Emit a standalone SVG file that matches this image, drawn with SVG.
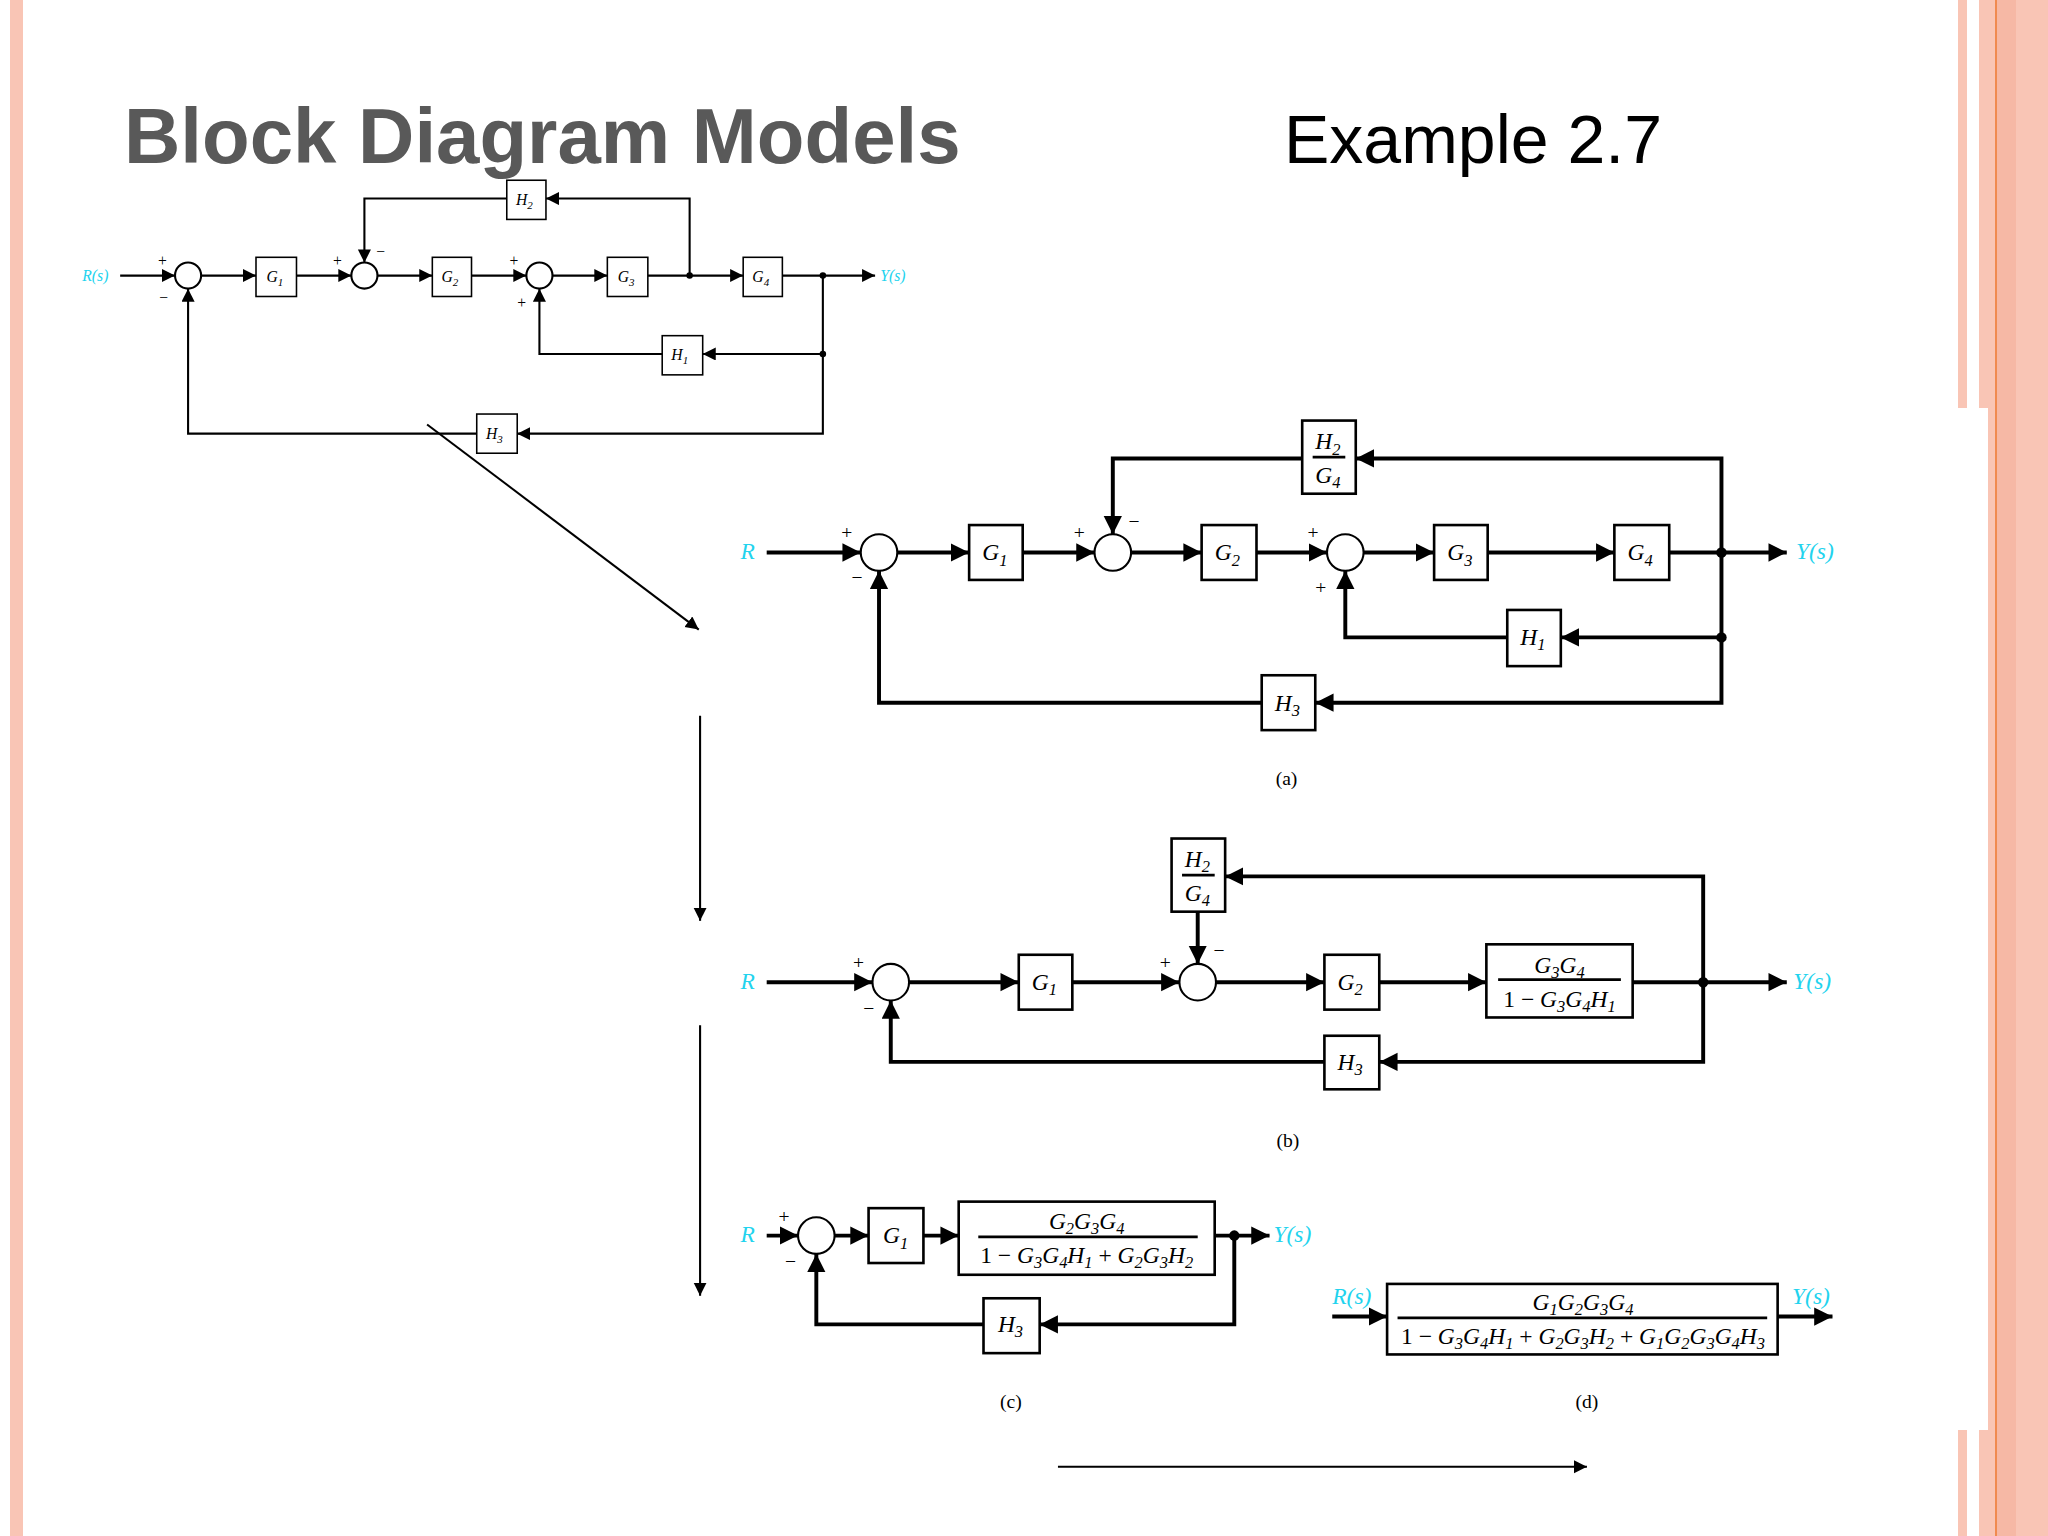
<svg xmlns="http://www.w3.org/2000/svg" width="2048" height="1536" viewBox="0 0 2048 1536">
<style>
.t{font-family:"Liberation Serif",serif;font-style:italic;fill:#000}
.c{font-family:"Liberation Serif",serif;font-style:italic;fill:#22D3EE}
.pm{font-family:"Liberation Serif",serif;fill:#000}
.thin{stroke:#000;stroke-width:1.6;fill:none}
.thick{stroke:#000;stroke-width:3;fill:none}
.bx1{stroke:#000;stroke-width:1.2;fill:#fff}
.bx2{stroke:#000;stroke-width:2;fill:#fff}
.s{font-size:70%}
</style>
<defs>
<marker id="a1" markerUnits="userSpaceOnUse" markerWidth="12" markerHeight="12" refX="10" refY="5" orient="auto"><path d="M0,0 L10,5 L0,10 Z" fill="#000"/></marker>
<marker id="a2" markerUnits="userSpaceOnUse" markerWidth="16" markerHeight="16" refX="14" refY="7" orient="auto"><path d="M0,0 L14,7 L0,14 Z" fill="#000"/></marker>
</defs>
<rect width="2048" height="1536" fill="#fff"/>
<rect x="10" y="0" width="13" height="1536" fill="#F9C5B5"/>
<rect x="1958" y="0" width="9" height="1536" fill="#F9C5B5"/>
<rect x="1979" y="0" width="69" height="1536" fill="#F9C5B5"/>
<rect x="1996" y="0" width="20" height="1536" fill="#F6B8A5"/>
<rect x="1995" y="0" width="2" height="1536" fill="#F08A50"/>
<rect x="1950" y="408" width="38" height="1022" fill="#fff"/>
<text x="124" y="163" font-family="Liberation Sans,Arial,sans-serif" font-weight="bold" font-size="78" fill="#595959">Block Diagram Models</text>
<text x="1284" y="163" font-family="Liberation Sans,Arial,sans-serif" font-size="68" fill="#000">Example 2.7</text>
<g transform="scale(1.30612)">
<g id="connectors">
<!-- top diagram -->
<g class="thin">
<path d="M92,211 H134" marker-end="url(#a1)"/>
<path d="M154,211 H196" marker-end="url(#a1)"/>
<path d="M227,211 H269" marker-end="url(#a1)"/>
<path d="M289,211 H331" marker-end="url(#a1)"/>
<path d="M361,211 H403" marker-end="url(#a1)"/>
<path d="M423,211 H465" marker-end="url(#a1)"/>
<path d="M496,211 H569" marker-end="url(#a1)"/>
<path d="M599,211 H670" marker-end="url(#a1)"/>
<path d="M528,211 V152 H418" marker-end="url(#a1)"/>
<path d="M388,152 H279 V201" marker-end="url(#a1)"/>
<path d="M630,211 V271 H538" marker-end="url(#a1)"/>
<path d="M507,271 H413 V221" marker-end="url(#a1)"/>
<path d="M630,271 V332 H396" marker-end="url(#a1)"/>
<path d="M365,332 H144 V221" marker-end="url(#a1)"/>
<path d="M327,325 L535,482" marker-end="url(#a1)"/>
<path d="M536,548 V705" marker-end="url(#a1)"/>
<path d="M536,785 V992" marker-end="url(#a1)"/>
<path d="M810,1123 H1215" marker-end="url(#a1)"/>
</g>
<!-- (a) -->
<g class="thick">
<path d="M587,423 H659" marker-end="url(#a2)"/>
<path d="M687,423 H742" marker-end="url(#a2)"/>
<path d="M783,423 H838" marker-end="url(#a2)"/>
<path d="M866,423 H920" marker-end="url(#a2)"/>
<path d="M962,423 H1016" marker-end="url(#a2)"/>
<path d="M1044,423 H1098" marker-end="url(#a2)"/>
<path d="M1139,423 H1236" marker-end="url(#a2)"/>
<path d="M1278,423 H1368" marker-end="url(#a2)"/>
<path d="M1318,423 V351 H1038" marker-end="url(#a2)"/>
<path d="M997,351 H852 V409" marker-end="url(#a2)"/>
<path d="M1318,423 V538 H1007" marker-end="url(#a2)"/>
<path d="M1318,488 H1195" marker-end="url(#a2)"/>
<path d="M1154,488 H1030 V437" marker-end="url(#a2)"/>
<path d="M966,538 H673 V437" marker-end="url(#a2)"/>
</g>
<!-- (b) -->
<g class="thick">
<path d="M587,752 H668" marker-end="url(#a2)"/>
<path d="M696,752 H780" marker-end="url(#a2)"/>
<path d="M821,752 H903" marker-end="url(#a2)"/>
<path d="M931,752 H1014" marker-end="url(#a2)"/>
<path d="M1056,752 H1138" marker-end="url(#a2)"/>
<path d="M1250,752 H1368" marker-end="url(#a2)"/>
<path d="M1304,752 V671 H938" marker-end="url(#a2)"/>
<path d="M917,698 V738" marker-end="url(#a2)"/>
<path d="M1304,752 V813 H1056" marker-end="url(#a2)"/>
<path d="M1014,813 H682 V766" marker-end="url(#a2)"/>
</g>
<!-- (c),(d) -->
<g class="thick">
<path d="M587,946 H611" marker-end="url(#a2)"/>
<path d="M639,946 H665" marker-end="url(#a2)"/>
<path d="M707,946 H734" marker-end="url(#a2)"/>
<path d="M930,946 H972" marker-end="url(#a2)"/>
<path d="M945,946 V1014 H796" marker-end="url(#a2)"/>
<path d="M753,1014 H625 V960" marker-end="url(#a2)"/>
<path d="M1020,1008 H1062" marker-end="url(#a2)"/>
<path d="M1361,1008 H1403" marker-end="url(#a2)"/>
</g>
<g fill="#000">
<circle cx="528" cy="211" r="2.5"/><circle cx="630" cy="211" r="2.5"/><circle cx="630" cy="271" r="2.5"/>
<circle cx="1318" cy="423" r="4"/><circle cx="1318" cy="488" r="4"/>
<circle cx="1304" cy="752" r="4"/><circle cx="945" cy="946" r="4"/>
</g>
</g>
<!-- top diagram nodes -->
<g id="top" font-size="12">
<text class="c" x="63" y="215">R(s)</text>
<text class="c" x="674" y="215">Y(s)</text>
<g id="t-s1"><circle class="thin" cx="144" cy="211" r="10" fill="#fff"/><text class="pm" x="121" y="204">+</text><text class="pm" x="122" y="232">−</text></g>
<g id="t-s2"><circle class="thin" cx="279" cy="211" r="10" fill="#fff"/><text class="pm" x="255" y="204">+</text><text class="pm" x="288" y="197">−</text></g>
<g id="t-s3"><circle class="thin" cx="413" cy="211" r="10" fill="#fff"/><text class="pm" x="390" y="204">+</text><text class="pm" x="396" y="236">+</text></g>
<g id="t-g1"><rect class="bx1" x="196" y="197" width="31" height="30"/><text class="t" x="204" y="216">G<tspan class="s" dy="3">1</tspan></text></g>
<g id="t-g2"><rect class="bx1" x="331" y="197" width="30" height="30"/><text class="t" x="338" y="216">G<tspan class="s" dy="3">2</tspan></text></g>
<g id="t-g3"><rect class="bx1" x="465" y="197" width="31" height="30"/><text class="t" x="473" y="216">G<tspan class="s" dy="3">3</tspan></text></g>
<g id="t-g4"><rect class="bx1" x="569" y="197" width="30" height="30"/><text class="t" x="576" y="216">G<tspan class="s" dy="3">4</tspan></text></g>
<g id="t-h2"><rect class="bx1" x="388" y="138" width="30" height="30"/><text class="t" x="395" y="157">H<tspan class="s" dy="3">2</tspan></text></g>
<g id="t-h1"><rect class="bx1" x="507" y="257" width="31" height="30"/><text class="t" x="514" y="276">H<tspan class="s" dy="3">1</tspan></text></g>
<g id="t-h3"><rect class="bx1" x="365" y="317" width="31" height="30"/><text class="t" x="372" y="336">H<tspan class="s" dy="3">3</tspan></text></g>
</g>
<!-- (a) -->
<g id="diag-a" font-size="18">
<text class="c" x="567" y="428">R</text>
<text class="c" x="1375" y="428">Y(s)</text>
<g id="a-s1"><circle class="thin" cx="673" cy="423" r="14" fill="#fff"/><text class="pm" x="644" y="413" font-size="15">+</text><text class="pm" x="652" y="447" font-size="15">−</text></g>
<g id="a-s2"><circle class="thin" cx="852" cy="423" r="14" fill="#fff"/><text class="pm" x="822" y="413" font-size="15">+</text><text class="pm" x="864" y="404" font-size="15">−</text></g>
<g id="a-s3"><circle class="thin" cx="1030" cy="423" r="14" fill="#fff"/><text class="pm" x="1001" y="413" font-size="15">+</text><text class="pm" x="1007" y="455" font-size="15">+</text></g>
<g id="a-g1"><rect class="bx2" x="742" y="402" width="41" height="42"/><text class="t" x="752" y="429">G<tspan class="s" dy="4">1</tspan></text></g>
<g id="a-g2"><rect class="bx2" x="920" y="402" width="42" height="42"/><text class="t" x="930" y="429">G<tspan class="s" dy="4">2</tspan></text></g>
<g id="a-g3"><rect class="bx2" x="1098" y="402" width="41" height="42"/><text class="t" x="1108" y="429">G<tspan class="s" dy="4">3</tspan></text></g>
<g id="a-g4"><rect class="bx2" x="1236" y="402" width="42" height="42"/><text class="t" x="1246" y="429">G<tspan class="s" dy="4">4</tspan></text></g>
<g id="a-h2g4"><rect class="bx2" x="997" y="322" width="41" height="56"/><text class="t" x="1007" y="344">H<tspan class="s" dy="4">2</tspan></text><line x1="1005" y1="350" x2="1030" y2="350" stroke="#000" stroke-width="2"/><text class="t" x="1007" y="370">G<tspan class="s" dy="4">4</tspan></text></g>
<g id="a-h1"><rect class="bx2" x="1154" y="467" width="41" height="43"/><text class="t" x="1164" y="494">H<tspan class="s" dy="4">1</tspan></text></g>
<g id="a-h3"><rect class="bx2" x="966" y="517" width="41" height="42"/><text class="t" x="976" y="544">H<tspan class="s" dy="4">3</tspan></text></g>
<text class="pm" x="985" y="601" font-size="15" text-anchor="middle">(a)</text>
</g>
<!-- (b) -->
<g id="diag-b" font-size="18">
<text class="c" x="567" y="757">R</text>
<text class="c" x="1373" y="757">Y(s)</text>
<g id="b-s1"><circle class="thin" cx="682" cy="752" r="14" fill="#fff"/><text class="pm" x="653" y="742" font-size="15">+</text><text class="pm" x="661" y="777" font-size="15">−</text></g>
<g id="b-s2"><circle class="thin" cx="917" cy="752" r="14" fill="#fff"/><text class="pm" x="888" y="742" font-size="15">+</text><text class="pm" x="929" y="733" font-size="15">−</text></g>
<g id="b-g1"><rect class="bx2" x="780" y="731" width="41" height="42"/><text class="t" x="790" y="758">G<tspan class="s" dy="4">1</tspan></text></g>
<g id="b-g2"><rect class="bx2" x="1014" y="731" width="42" height="42"/><text class="t" x="1024" y="758">G<tspan class="s" dy="4">2</tspan></text></g>
<g id="b-big"><rect class="bx2" x="1138" y="723" width="112" height="56"/><text class="t" x="1194" y="745" text-anchor="middle">G<tspan class="s" dy="4">3</tspan><tspan dy="-4">G</tspan><tspan class="s" dy="4">4</tspan></text><line x1="1147" y1="750" x2="1241" y2="750" stroke="#000" stroke-width="2"/><text class="t" x="1194" y="771" text-anchor="middle"><tspan font-style="normal">1 − </tspan>G<tspan class="s" dy="4">3</tspan><tspan dy="-4">G</tspan><tspan class="s" dy="4">4</tspan><tspan dy="-4">H</tspan><tspan class="s" dy="4">1</tspan></text></g>
<g id="b-h2g4"><rect class="bx2" x="897" y="642" width="41" height="56"/><text class="t" x="907" y="664">H<tspan class="s" dy="4">2</tspan></text><line x1="905" y1="670" x2="930" y2="670" stroke="#000" stroke-width="2"/><text class="t" x="907" y="690">G<tspan class="s" dy="4">4</tspan></text></g>
<g id="b-h3"><rect class="bx2" x="1014" y="793" width="42" height="41"/><text class="t" x="1024" y="819">H<tspan class="s" dy="4">3</tspan></text></g>
<text class="pm" x="986" y="878" font-size="15" text-anchor="middle">(b)</text>
</g>
<!-- (c) -->
<g id="diag-c" font-size="18">
<text class="c" x="567" y="951">R</text>
<text class="c" x="975" y="951">Y(s)</text>
<g id="c-s1"><circle class="thin" cx="625" cy="946" r="14" fill="#fff"/><text class="pm" x="596" y="936" font-size="15">+</text><text class="pm" x="601" y="971" font-size="15">−</text></g>
<g id="c-g1"><rect class="bx2" x="665" y="925" width="42" height="42"/><text class="t" x="676" y="952">G<tspan class="s" dy="4">1</tspan></text></g>
<g id="c-big"><rect class="bx2" x="734" y="920" width="196" height="56"/><text class="t" x="832" y="941" text-anchor="middle">G<tspan class="s" dy="4">2</tspan><tspan dy="-4">G</tspan><tspan class="s" dy="4">3</tspan><tspan dy="-4">G</tspan><tspan class="s" dy="4">4</tspan></text><line x1="749" y1="947" x2="917" y2="947" stroke="#000" stroke-width="2"/><text class="t" x="832" y="967" text-anchor="middle"><tspan font-style="normal">1 − </tspan>G<tspan class="s" dy="4">3</tspan><tspan dy="-4">G</tspan><tspan class="s" dy="4">4</tspan><tspan dy="-4">H</tspan><tspan class="s" dy="4">1</tspan><tspan dy="-4" font-style="normal"> + </tspan>G<tspan class="s" dy="4">2</tspan><tspan dy="-4">G</tspan><tspan class="s" dy="4">3</tspan><tspan dy="-4">H</tspan><tspan class="s" dy="4">2</tspan></text></g>
<g id="c-h3"><rect class="bx2" x="753" y="994" width="43" height="42"/><text class="t" x="764" y="1020">H<tspan class="s" dy="4">3</tspan></text></g>
<text class="pm" x="774" y="1078" font-size="15" text-anchor="middle">(c)</text>
</g>
<!-- (d) -->
<g id="diag-d" font-size="18">
<text class="c" x="1020" y="998">R(s)</text>
<text class="c" x="1372" y="998">Y(s)</text>
<g id="d-big"><rect class="bx2" x="1062" y="983" width="299" height="54"/><text class="t" x="1212" y="1003" text-anchor="middle">G<tspan class="s" dy="4">1</tspan><tspan dy="-4">G</tspan><tspan class="s" dy="4">2</tspan><tspan dy="-4">G</tspan><tspan class="s" dy="4">3</tspan><tspan dy="-4">G</tspan><tspan class="s" dy="4">4</tspan></text><line x1="1070" y1="1009" x2="1353" y2="1009" stroke="#000" stroke-width="2"/><text class="t" x="1212" y="1029" text-anchor="middle"><tspan font-style="normal">1 − </tspan>G<tspan class="s" dy="4">3</tspan><tspan dy="-4">G</tspan><tspan class="s" dy="4">4</tspan><tspan dy="-4">H</tspan><tspan class="s" dy="4">1</tspan><tspan dy="-4" font-style="normal"> + </tspan>G<tspan class="s" dy="4">2</tspan><tspan dy="-4">G</tspan><tspan class="s" dy="4">3</tspan><tspan dy="-4">H</tspan><tspan class="s" dy="4">2</tspan><tspan dy="-4" font-style="normal"> + </tspan>G<tspan class="s" dy="4">1</tspan><tspan dy="-4">G</tspan><tspan class="s" dy="4">2</tspan><tspan dy="-4">G</tspan><tspan class="s" dy="4">3</tspan><tspan dy="-4">G</tspan><tspan class="s" dy="4">4</tspan><tspan dy="-4">H</tspan><tspan class="s" dy="4">3</tspan></text></g>
<text class="pm" x="1215" y="1078" font-size="15" text-anchor="middle">(d)</text>
</g>
</g>
</svg>
